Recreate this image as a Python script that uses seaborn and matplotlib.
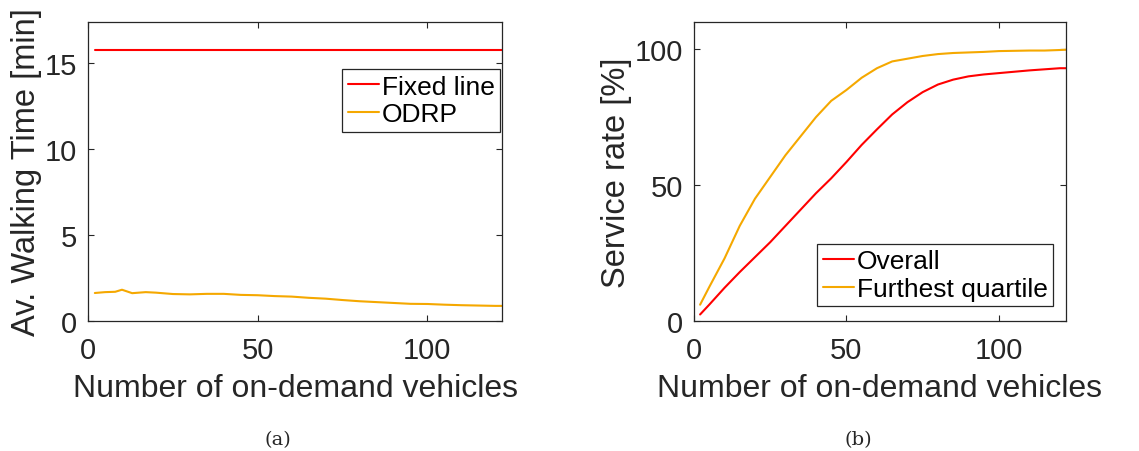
import numpy as np
import pandas as pd
import matplotlib
matplotlib.use('Agg')
import matplotlib.pyplot as plt
import seaborn as sns

# walking time panel (a)
walk_x = [2, 5, 8, 10, 13, 17, 20, 25, 30, 35, 40, 45, 50, 55, 60, 65, 70, 75,
          80, 85, 90, 95, 100, 105, 110, 115, 120, 122]
odrp_walk = [1.63, 1.68, 1.70, 1.82, 1.62, 1.68, 1.65, 1.57, 1.55, 1.58, 1.58, 1.52,
             1.50, 1.45, 1.42, 1.35, 1.30, 1.22, 1.15, 1.10, 1.05, 1.00, 0.99, 0.95,
             0.92, 0.90, 0.88, 0.88]
fixed_walk = 15.8

# service rate panel (b)
rate_x = [2, 5, 10, 15, 20, 25, 30, 35, 40, 45, 50, 55, 60, 65, 70, 75, 80, 85,
          90, 95, 100, 105, 110, 115, 120, 122]
overall = [2.4, 6, 12.2, 18, 23.5, 29, 35, 41, 47, 52.5, 58.5, 64.8, 70.5, 76,
           80.5, 84.2, 87, 88.8, 90, 90.7, 91.2, 91.7, 92.2, 92.6, 93, 93]
furthest = [6, 12.5, 23, 35, 45, 53, 61, 68, 75, 81, 85, 89.5, 93, 95.5, 96.5,
            97.5, 98.2, 98.6, 98.8, 99, 99.3, 99.4, 99.5, 99.5, 99.7, 99.8]

sns.set_style('ticks')
plt.rcParams['font.family'] = ['Liberation Sans', 'DejaVu Sans']
txt = '#262626'
red = '#ff0000'
orange = '#f5a800'

df_a = pd.DataFrame({
    'x': walk_x * 2,
    'y': [fixed_walk] * len(walk_x) + odrp_walk,
    'method': ['Fixed line'] * len(walk_x) + ['ODRP'] * len(walk_x),
})
df_b = pd.DataFrame({
    'x': rate_x * 2,
    'y': overall + furthest,
    'method': ['Overall'] * len(rate_x) + ['Furthest quartile'] * len(rate_x),
})

fig = plt.figure(figsize=(11.39, 4.52), dpi=100)
ax1 = fig.add_axes([0.0773, 0.2876, 0.3635, 0.6615])
ax2 = fig.add_axes([0.6093, 0.2876, 0.3266, 0.6615])

sns.lineplot(data=df_a, x='x', y='y', hue='method', palette=[red, orange],
             linewidth=1.5, ax=ax1)
sns.lineplot(data=df_b, x='x', y='y', hue='method', palette=[red, orange],
             linewidth=1.5, ax=ax2)

ax1.set_xlim(0, 122)
ax1.set_ylim(0, 17.4)
ax1.set_yticks([0, 5, 10, 15])
ax1.set_ylabel('Av. Walking Time [min]', fontsize=23.5, color=txt, labelpad=2)

ax2.set_xlim(0, 122)
ax2.set_ylim(0, 110)
ax2.set_yticks([0, 50, 100])
ax2.set_ylabel('Service rate [%]', fontsize=23.5, color=txt, labelpad=2)

for ax in (ax1, ax2):
    ax.set_xticks([0, 50, 100])
    ax.set_xlabel('Number of on-demand vehicles', fontsize=23, color=txt, labelpad=6)
    ax.tick_params(direction='in', top=True, right=True, labelsize=21,
                   colors=txt, length=4, width=0.8, pad=8)
    ax.tick_params(axis='x', pad=11)
    for s in ax.spines.values():
        s.set_color('#262626')
        s.set_linewidth(0.9)

leg1 = ax1.legend(loc='upper right', bbox_to_anchor=(0.995, 0.842), fontsize=19,
                  handlelength=1.2, handletextpad=0.1, borderpad=0.2,
                  labelspacing=0.15, fancybox=False, framealpha=1,
                  edgecolor='#262626', borderaxespad=0)
leg2 = ax2.legend(loc='lower right', bbox_to_anchor=(0.965, 0.05), fontsize=19,
                  handlelength=1.2, handletextpad=0.1, borderpad=0.2,
                  labelspacing=0.15, fancybox=False, framealpha=1,
                  edgecolor='#262626', borderaxespad=0)
for leg in (leg1, leg2):
    leg.get_frame().set_linewidth(0.9)
    for t in leg.get_texts():
        t.set_color('black')

fig.text(0.244, 0.015, '(a)', fontsize=14, family='DejaVu Serif', ha='center')
fig.text(0.754, 0.015, '(b)', fontsize=14, family='DejaVu Serif', ha='center')

fig.savefig('out.png', dpi=100)
